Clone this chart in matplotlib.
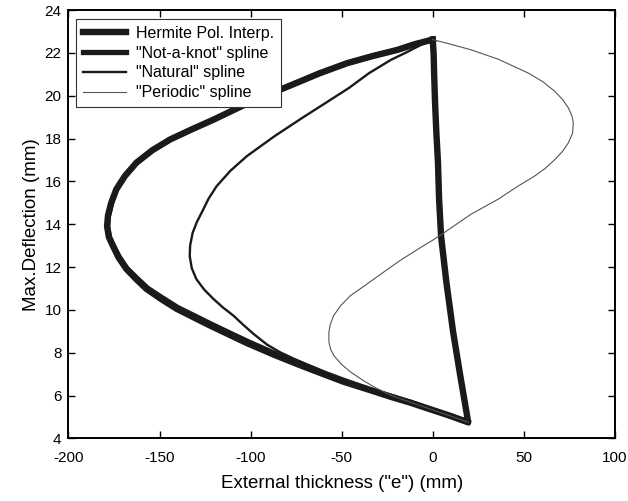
import matplotlib.pyplot as plt

plt.rcParams['font.family'] = ['Liberation Sans', 'DejaVu Sans']
plt.rcParams['axes.unicode_minus'] = False

# points (x = external thickness, y = max deflection)
herm_x = [0, -10, -19.3, -33, -46.9, -62, -77.2, -99, -120.4, -133, -144.3, -154, -162.7,
          -169, -173.7, -176.5, -178.3, -178.8, -177.8, -175.6, -172.5, -168.2, -163, -157.2,
          -149, -140.6, -131, -122.3, -111.2, -102.0, -87, -72.6, -60, -48.8, -35, -23.0,
          -12, -2.8, 9, 19.5,
          15, 11.2, 7.5, 4.6, 3.5, 2.9, 2.0, 1.3, 0.8, 0.5, 0]
herm_y = [22.62, 22.4, 22.14, 21.85, 21.52, 21.05, 20.51, 19.75, 18.88, 18.4, 17.95, 17.45, 16.87,
          16.25, 15.63, 15.0, 14.4, 13.9, 13.4, 12.99, 12.45, 11.91, 11.45, 10.98,
          10.5, 10.05, 9.64, 9.27, 8.82, 8.45, 7.9, 7.41, 7.0, 6.64, 6.27, 5.94,
          5.66, 5.40, 5.07, 4.75,
          7.0, 8.98, 11.3, 13.44, 15.2, 16.88, 18.3, 19.67, 21.0, 22.0, 22.62]

nak_x = [0, -10, -19.3, -33, -46.9, -62, -77.2, -99, -120.4, -133, -144.3, -154, -162.7,
         -169, -173.7, -176.3, -178.0, -178.5, -177.5, -175.3, -172.1, -167.8, -162.4, -156.5,
         -148.2, -139.8, -130.2, -121.5, -110.4, -101.2, -86.5, -72.0, -59.6, -48.5, -35, -23.0,
         -12, -2.8, 9, 19.5]
nak_y = [22.62, 22.4, 22.14, 21.85, 21.52, 21.05, 20.51, 19.75, 18.88, 18.4, 17.95, 17.45, 16.87,
         16.25, 15.63, 15.0, 14.4, 13.9, 13.4, 12.99, 12.47, 11.93, 11.48, 11.01,
         10.55, 10.10, 9.70, 9.33, 8.88, 8.51, 7.96, 7.47, 7.05, 6.70, 6.30, 5.97,
         5.68, 5.41, 5.07, 4.75]

nat_x = [0, -6.5, -15, -23.0, -35, -46.0, -59, -71.7, -87, -102.0, -111, -118.6, -123, -126.5,
         -129.5, -131.8, -133.2, -133.4, -132.3, -129.8, -125.5, -120.4, -115, -109.4, -104,
         -98.4, -91.0, -84, -76.3, -62.0, -48.5, -35, -23.0, -12, -2.8, 9, 19.5]
nat_y = [22.62, 22.37, 22.0, 21.67, 21.05, 20.36, 19.65, 18.96, 18.1, 17.18, 16.5, 15.78, 15.2, 14.6,
         14.1, 13.6, 13.0, 12.5, 11.95, 11.44, 10.95, 10.51, 10.1, 9.73, 9.3,
         8.88, 8.38, 8.03, 7.72, 7.20, 6.68, 6.29, 5.96, 5.67, 5.41, 5.07, 4.75]

per_x = [0, 10, 21.1, 35.8, 52.4, 60.5, 67.1, 71.5, 74.5, 76.5, 77.2, 76.8, 74.5, 71.3, 67.1,
         62, 56.0, 46.9, 35.8, 21.1, 6.4, 0.9, -6.5, -18, -28, -37, -45.1, -50.5, -54.4,
         -56.3, -57.0, -57.0, -56, -54.3, -50, -45.1, -39, -32.2, -23.0, -12, -2.8, 9, 19.5]
per_y = [22.62, 22.4, 22.14, 21.71, 21.06, 20.65, 20.20, 19.8, 19.43, 19.05, 18.73, 18.25, 17.80,
         17.4, 17.02, 16.62, 16.25, 15.78, 15.16, 14.47, 13.61, 13.30, 12.92, 12.3, 11.7, 11.15,
         10.67, 10.2, 9.73, 9.3, 8.96, 8.50, 8.15, 7.87, 7.45, 7.10, 6.75, 6.40, 6.01,
         5.68, 5.41, 5.07, 4.75]

x_ticks = [-200, -150, -100, -50, 0, 50, 100]
y_ticks = [4, 6, 8, 10, 12, 14, 16, 18, 20, 22, 24]

fig = plt.figure(figsize=(6.28, 5.01), dpi=100)
ax = fig.add_axes([0.109, 0.125, 0.870, 0.855])

ax.plot(herm_x, herm_y, color='#1a1a1a', lw=4.6, solid_joinstyle='round', label='Hermite Pol. Interp.')
ax.plot(nak_x, nak_y, color='#1a1a1a', lw=3.8, solid_joinstyle='round', label='"Not-a-knot" spline')
ax.plot(nat_x, nat_y, color='#1a1a1a', lw=1.7, label='"Natural" spline')
ax.plot(per_x, per_y, color='#555555', lw=0.8, label='"Periodic" spline')

ax.set_xlim(-200, 100)
ax.set_ylim(4, 24)
ax.set_xticks(x_ticks)
ax.set_yticks(y_ticks)
ax.tick_params(direction='in', top=True, right=True, length=5, width=1, labelsize=11)
ax.tick_params(axis='x', pad=9)
ax.tick_params(axis='y', pad=5)
for s in ax.spines.values():
    s.set_linewidth(1.4)

ax.set_xlabel('External thickness ("e") (mm)', fontsize=13.5, labelpad=7)
ax.set_ylabel('Max.Deflection (mm)', fontsize=13.5, labelpad=3)

leg = ax.legend(loc='upper left', bbox_to_anchor=(0.0137, 0.98), fontsize=11.5, handlelength=2.7,
                handletextpad=0.6, fancybox=False, framealpha=1, borderaxespad=0,
                labelspacing=0.3, borderpad=0.45)
leg.get_frame().set_edgecolor('#333333')
leg.get_frame().set_linewidth(0.8)

fig.savefig('out.png', dpi=100)
